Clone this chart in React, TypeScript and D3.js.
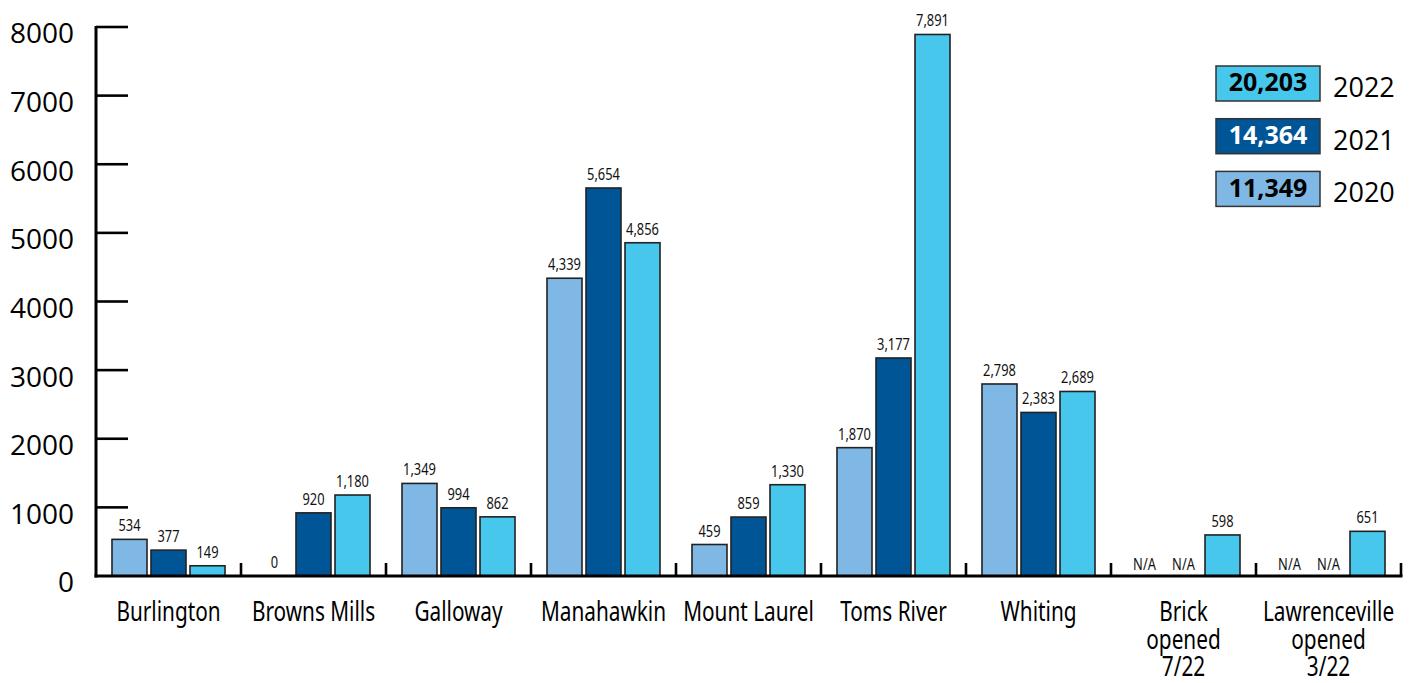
import React from "react";
import * as d3 from "d3";

const categories = ["Burlington", "Browns Mills", "Galloway", "Manahawkin", "Mount Laurel", "Toms River", "Whiting", "Brick", "Lawrenceville"];
const categoryNotes = [[], [], [], [], [], [], [], ["opened", "7/22"], ["opened", "3/22"]];
const years = ["2020", "2021", "2022"];
const values2020: (number | null)[] = [534, 0, 1349, 4339, 459, 1870, 2798, null, null];
const values2021: (number | null)[] = [377, 920, 994, 5654, 859, 3177, 2383, null, null];
const values2022: (number | null)[] = [149, 1180, 862, 4856, 1330, 7891, 2689, 598, 651];
const yearTotals = ["11,349", "14,364", "20,203"];
const yTicks = [0, 1000, 2000, 3000, 4000, 5000, 6000, 7000, 8000];

const seriesValues = [values2020, values2021, values2022];
const colors = ["#7fb8e4", "#005596", "#47c7ec"];
const totalTextColors = ["#000", "#fff", "#000"];

const NARROW = "'Noto Sans', 'Open Sans', sans-serif";
const REG = "'Open Sans', 'Noto Sans', sans-serif";

function NText(props: { x: number; y: number; size: number; sx: number; children: React.ReactNode; fill?: string }) {
  return (
    <text
      transform={`translate(${props.x},${props.y}) scale(${props.sx},1)`}
      textAnchor="middle"
      fontFamily={NARROW}
      fontSize={props.size}
      fill={props.fill || "#111"}
    >
      {props.children}
    </text>
  );
}

export default function App() {
  const W = 1416, H = 683;
  const x0 = 96, x1 = 1401, y0 = 576, yTop = 27;
  const x = d3.scaleBand<string>().domain(categories).range([x0, x1]).paddingInner(0).paddingOuter(0);
  const xi = d3.scaleBand<string>().domain(years).range([0, x.bandwidth()]).paddingInner(0.1026).paddingOuter(0.41);
  const y = d3.scaleLinear().domain([0, 8000]).range([y0, yTop]);
  const fmt = d3.format(",");

  const legendOrder = [2, 1, 0];

  return (
    <svg width={W} height={H} style={{ position: "absolute", left: 0, top: 0, background: "#fff" }}>
      {yTicks.map((t) => (
        <g key={t}>
          {t > 0 && <line x1={x0} x2={x0 + 32} y1={y(t)} y2={y(t)} stroke="#000" strokeWidth={2.6} />}
          <text x={74} y={y(t) + 9} textAnchor="end" dominantBaseline="middle" fontFamily={REG} fontSize={28} fill="#000">
            {t}
          </text>
        </g>
      ))}

      {categories.map((c, ci) => (
        <g key={c}>
          {years.map((yr, si) => {
            const v = seriesValues[si][ci];
            const bx = (x(c) as number) + (xi(yr) as number);
            const bw = xi.bandwidth();
            if (v === null) {
              return (
                <NText key={yr} x={bx + bw / 2} y={y0 - 6} size={16.5} sx={0.78}>
                  N/A
                </NText>
              );
            }
            return (
              <g key={yr}>
                {v > 0 && (
                  <rect x={bx} y={y(v)} width={bw} height={y0 - y(v)} fill={colors[si]} stroke="#222" strokeWidth={1.6} />
                )}
                <NText x={bx + bw / 2} y={y(v) - 8} size={16.5} sx={0.78}>
                  {fmt(v)}
                </NText>
              </g>
            );
          })}
        </g>
      ))}

      <line x1={x0} x2={x0} y1={yTop - 1} y2={y0 + 1.5} stroke="#000" strokeWidth={3} />
      <line x1={x0 - 1.5} x2={x1 + 1.5} y1={y0} y2={y0} stroke="#000" strokeWidth={3} />
      {categories.map((c) => (
        <line key={c} x1={(x(c) as number) + x.bandwidth()} x2={(x(c) as number) + x.bandwidth()} y1={y0 - 13} y2={y0} stroke="#000" strokeWidth={2.6} />
      ))}

      {categories.map((c, ci) => {
        const cx = (x(c) as number) + x.bandwidth() / 2;
        return (
          <g key={c}>
            <NText x={cx} y={621} size={27} sx={0.77} fill="#000">
              {c}
            </NText>
            {categoryNotes[ci].map((n, k) => (
              <NText key={k} x={cx} y={621 + 27.5 * (k + 1)} size={27} sx={0.77} fill="#000">
                {n}
              </NText>
            ))}
          </g>
        );
      })}

      {legendOrder.map((si, k) => {
        const ly = 66 + k * 52.7;
        return (
          <g key={si}>
            <rect x={1216} y={ly} width={104} height={35} fill={colors[si]} stroke="#333" strokeWidth={1.5} />
            <text x={1268} y={ly + 18.5} textAnchor="middle" dominantBaseline="middle" fontFamily={REG} fontWeight={700} fontSize={25} fill={totalTextColors[si]}>
              {yearTotals[si]}
            </text>
            <text x={1333} y={ly + 31} fontFamily={REG} fontSize={27} fill="#000">
              {years[si]}
            </text>
          </g>
        );
      })}
    </svg>
  );
}
